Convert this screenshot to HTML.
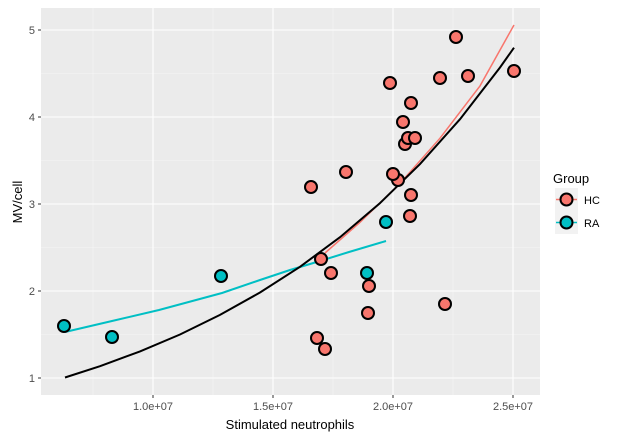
<!DOCTYPE html>
<html><head><style>body{margin:0;background:#fff}</style></head><body>
<svg width="620" height="440" xmlns="http://www.w3.org/2000/svg" font-family="Liberation Sans, sans-serif">
<rect x="41" y="8" width="499" height="387" fill="#ebebeb"/>
<g stroke="#f5f5f5" stroke-width="0.6">
<line x1="93" x2="93" y1="8" y2="395"/><line x1="213" x2="213" y1="8" y2="395"/><line x1="333" x2="333" y1="8" y2="395"/><line x1="453" x2="453" y1="8" y2="395"/>
<line x1="41" x2="540" y1="73.5" y2="73.5"/><line x1="41" x2="540" y1="160.5" y2="160.5"/><line x1="41" x2="540" y1="247.5" y2="247.5"/><line x1="41" x2="540" y1="334.5" y2="334.5"/>
</g>
<g stroke="#fff" stroke-width="1.1">
<line x1="153" x2="153" y1="8" y2="395"/><line x1="273" x2="273" y1="8" y2="395"/><line x1="393" x2="393" y1="8" y2="395"/><line x1="513" x2="513" y1="8" y2="395"/>
<line x1="41" x2="540" y1="30" y2="30"/><line x1="41" x2="540" y1="117" y2="117"/><line x1="41" x2="540" y1="204" y2="204"/><line x1="41" x2="540" y1="291" y2="291"/><line x1="41" x2="540" y1="378" y2="378"/>
</g>
<g stroke="#333" stroke-width="1"><line x1="153" x2="153" y1="395" y2="398"/><line x1="273" x2="273" y1="395" y2="398"/><line x1="393" x2="393" y1="395" y2="398"/><line x1="513" x2="513" y1="395" y2="398"/>
<line x1="38" x2="41" y1="30" y2="30"/><line x1="38" x2="41" y1="117" y2="117"/><line x1="38" x2="41" y1="204" y2="204"/><line x1="38" x2="41" y1="291" y2="291"/><line x1="38" x2="41" y1="378" y2="378"/></g>
<g fill="#4d4d4d" font-size="11" text-anchor="middle">
<text x="153" y="410">1.0e+07</text><text x="273" y="410">1.5e+07</text><text x="393" y="410">2.0e+07</text><text x="513" y="410">2.5e+07</text>
</g>
<g fill="#4d4d4d" font-size="11" text-anchor="end">
<text x="35" y="34">5</text><text x="35" y="121">4</text><text x="35" y="208">3</text><text x="35" y="295">2</text><text x="35" y="382">1</text>
</g>
<text x="290" y="429" font-size="13" text-anchor="middle" fill="#000">Stimulated neutrophils</text>
<text transform="translate(22,202) rotate(-90)" font-size="13" text-anchor="middle" fill="#000">MV/cell</text>
<polyline fill="none" stroke="#f8766d" stroke-width="1.5" points="325,253 360,222.3 400,183.4 440,138.2 480,85.9 514,25"/>
<polyline fill="none" stroke="#00bfc4" stroke-width="2" points="65,332 112,321 159,310 222,293 260,280 290,270 320,261 349,252 386,241"/>
<polyline fill="none" stroke="#000" stroke-width="2" points="65,377.5 100,366.2 140,351.4 180,334.5 220,314.9 260,292.5 300,266.8 340,237.2 380,203.1 420,164.1 460,119.2 500,67.5 514,47.7"/>
<g stroke="#000" stroke-width="2" fill="#f8766d">
<circle cx="456" cy="37" r="6"/><circle cx="514" cy="71" r="6"/><circle cx="468" cy="76" r="6"/><circle cx="440" cy="78" r="6"/><circle cx="390" cy="83" r="6"/><circle cx="411" cy="103" r="6"/><circle cx="403" cy="122" r="6"/><circle cx="405" cy="144" r="6"/><circle cx="408" cy="138" r="6"/><circle cx="415" cy="138" r="6"/><circle cx="346" cy="172" r="6"/><circle cx="311" cy="187" r="6"/><circle cx="398" cy="180" r="6"/><circle cx="393" cy="174" r="6"/><circle cx="411" cy="195" r="6"/><circle cx="410" cy="216" r="6"/><circle cx="321" cy="259" r="6"/><circle cx="331" cy="273" r="6"/><circle cx="369" cy="286" r="6"/><circle cx="368" cy="313" r="6"/><circle cx="445" cy="304" r="6"/><circle cx="317" cy="338" r="6"/><circle cx="325" cy="349" r="6"/>
</g>
<g stroke="#000" stroke-width="2" fill="#00bfc4">
<circle cx="64" cy="326" r="6"/><circle cx="112" cy="337" r="6"/><circle cx="221" cy="276" r="6"/><circle cx="367" cy="273" r="6"/><circle cx="386" cy="222" r="6"/>
</g>
<text x="553" y="183" font-size="13" fill="#000">Group</text>
<rect x="555" y="188" width="23" height="23" fill="#f2f2f2"/>
<rect x="555" y="211" width="23" height="23" fill="#f2f2f2"/>
<line x1="556" x2="577" y1="199.5" y2="199.5" stroke="#f8766d" stroke-width="1.5"/>
<line x1="556" x2="577" y1="222.5" y2="222.5" stroke="#00bfc4" stroke-width="1.5"/>
<circle cx="566.5" cy="199.5" r="6" fill="#f8766d" stroke="#000" stroke-width="2"/>
<circle cx="566.5" cy="222.5" r="6" fill="#00bfc4" stroke="#000" stroke-width="2"/>
<text x="584" y="204" font-size="11" fill="#000">HC</text>
<text x="584" y="227" font-size="11" fill="#000">RA</text>
</svg>
</body></html>
